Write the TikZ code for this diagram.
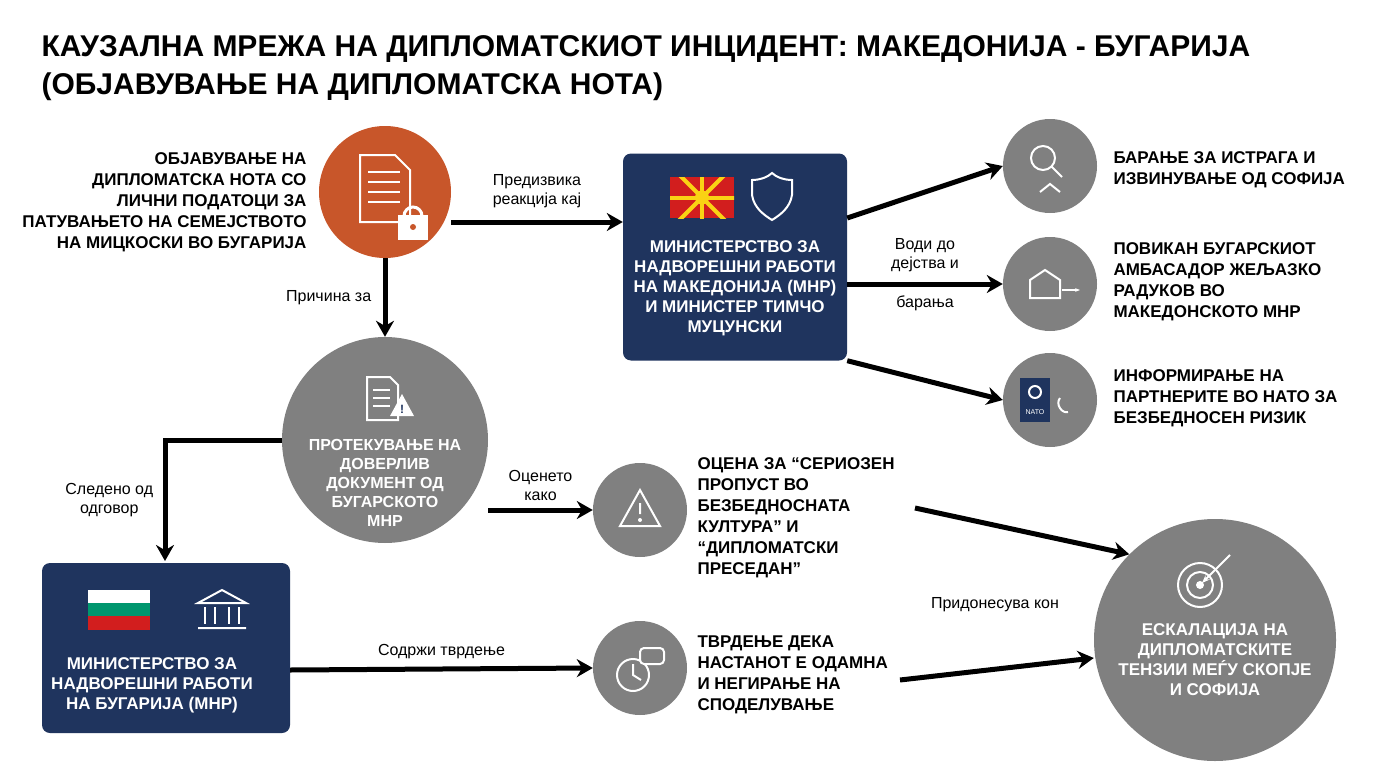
\documentclass[tikz,border=0pt]{standalone}
\usepackage{fontspec}
\setmainfont{Liberation Sans}
\usetikzlibrary{arrows.meta,positioning}
\definecolor{noteorange}{RGB}{200, 86, 42}
\definecolor{ministry}{RGB}{31, 52, 94}
\definecolor{effect}{RGB}{128, 128, 128}
\definecolor{mkred}{RGB}{210, 30, 30}
\definecolor{mkyellow}{RGB}{250, 210, 20}
\definecolor{bggreen}{RGB}{0, 150, 110}
\tikzset{
  flow/.style={line width=5pt, -{Stealth[length=16pt,width=18pt]}},
  lbl/.style={font=\fontsize{16}{19}\selectfont, align=center},
  bodytext/.style={font=\bfseries\fontsize{17}{21}\selectfont, align=left, anchor=west},
  ring/.style={circle, fill=effect, minimum size=94pt, inner sep=0pt},
  box/.style={rounded corners=8pt, fill=ministry, text=white, font=\bfseries\fontsize{17}{20}\selectfont, align=center},
  icon/.style={draw=white, line width=2pt}
}
\begin{document}
\begin{tikzpicture}[x=1pt, y=-1pt]
\useasboundingbox[fill=white] (0,0) rectangle (1376,768);
% title
\node[anchor=north west, align=left, font=\bfseries\fontsize{30}{38}\selectfont] (title) at (38,32)
  {КАУЗАЛНА МРЕЖА НА ДИПЛОМАТСКИОТ ИНЦИДЕНТ: МАКЕДОНИЈА - БУГАРИЈА\\(ОБЈАВУВАЊЕ НА ДИПЛОМАТСКА НОТА)};

% nodes
\node[circle, fill=noteorange, minimum size=132pt] (note) at (385,192) {};
\node[font=\bfseries\fontsize{17}{21}\selectfont, align=right, anchor=east] (notetxt) at (310,202)
  {ОБЈАВУВАЊЕ НА\\ДИПЛОМАТСКА НОТА СО\\ЛИЧНИ ПОДАТОЦИ ЗА\\ПАТУВАЊЕТО НА СЕМЕЈСТВОТО\\НА МИЦКОСКИ ВО БУГАРИЈА};
\node[box, minimum width=224pt, minimum height=207pt] (mnr) at (735,257) {};
\node[font=\bfseries\fontsize{17}{20}\selectfont, text=white, align=center] (mnrtxt) at (735,288)
  {МИНИСТЕРСТВО ЗА\\НАДВОРЕШНИ РАБОТИ\\НА МАКЕДОНИЈА (МНР)\\И МИНИСТЕР ТИМЧО\\МУЦУНСКИ};
\node[circle, fill=effect, minimum size=206pt, inner sep=0pt] (leak) at (385,440) {};
\node[font=\bfseries\fontsize{16}{19}\selectfont, text=white, align=center] (leaktxt) at (385,483)
  {ПРОТЕКУВАЊЕ НА\\ДОВЕРЛИВ\\ДОКУМЕНТ ОД\\БУГАРСКОТО\\МНР};
\node[box, minimum width=248pt, minimum height=170pt] (bgmnr) at (166,648) {};
\node[font=\bfseries\fontsize{17}{20}\selectfont, text=white, align=center] (bgtxt) at (152,685)
  {МИНИСТЕРСТВО ЗА\\НАДВОРЕШНИ РАБОТИ\\НА БУГАРИЈА (МНР)};

\node[ring] (probe) at (1050,166) {};
\node[bodytext] (probetxt) at (1110,170) {БАРАЊЕ ЗА ИСТРАГА И\\ИЗВИНУВАЊЕ ОД СОФИЈА};
\node[ring] (envoy) at (1050,284) {};
\node[bodytext] (envoytxt) at (1110,282) {ПОВИКАН БУГАРСКИОТ\\АМБАСАДОР ЖЕЉАЗКО\\РАДУКОВ ВО\\МАКЕДОНСКОТО МНР};
\node[ring] (nato) at (1050,400) {};
\node[bodytext] (natotxt) at (1110,398) {ИНФОРМИРАЊЕ НА\\ПАРТНЕРИТЕ ВО НАТО ЗА\\БЕЗБЕДНОСЕН РИЗИК};
\node[ring] (assess) at (640,510) {};
\node[bodytext] (assesstxt) at (694,518) {ОЦЕНА ЗА “СЕРИОЗЕН\\ПРОПУСТ ВО\\БЕЗБЕДНОСНАТА\\КУЛТУРА” И\\“ДИПЛОМАТСКИ\\ПРЕСЕДАН”};
\node[ring] (claim) at (640,668) {};
\node[bodytext] (claimtxt) at (694,675) {ТВРДЕЊЕ ДЕКА\\НАСТАНОТ Е ОДАМНА\\И НЕГИРАЊЕ НА\\СПОДЕЛУВАЊЕ};
\node[circle, fill=effect, minimum size=242pt, inner sep=0pt] (escal) at (1215,640) {};
\node[font=\bfseries\fontsize{17}{20}\selectfont, text=white, align=center] (escaltxt) at (1215,660)
  {ЕСКАЛАЦИЈА НА\\ДИПЛОМАТСКИТЕ\\ТЕНЗИИ МЕЃУ СКОПЈЕ\\И СОФИЈА};

% icons
\draw[icon, fill=noteorange] (360,155) -- (395,155) -- (410,170) -- (410,222) -- (360,222) -- cycle;
\foreach \yy in {172,182,192,202} \draw[white, line width=2pt] (368,\yy) -- (400,\yy);
\draw[white, line width=3pt] (404,216) arc (180:360:9);
\fill[white] (398,215) rectangle (428,240);
\fill[noteorange] (413,227) circle (3);
\begin{scope}
\clip (670,177) rectangle (734,218);
\fill[mkred] (670,177) rectangle (734,218);
\foreach \a in {0,45,...,315} \draw[mkyellow, line width=4pt] (702,197.5) -- ++(\a:40);
\fill[mkyellow] (702,197.5) circle (7);
\end{scope}
\draw[icon] (752,180) .. controls (760,180) and (768,177) .. (772,173) .. controls (776,177) and (784,180) .. (792,180) -- (792,195) .. controls (790,208) and (780,215) .. (772,220) .. controls (764,215) and (754,208) .. (752,195) -- cycle;
\draw[icon] (367,377) -- (390,377) -- (398,385) -- (398,420) -- (367,420) -- cycle;
\foreach \yy in {390,398,406} \draw[white, line width=1.5pt] (373,\yy) -- (390,\yy);
\fill[white] (402,394) -- (414,416) -- (390,416) -- cycle;
\node[text=ministry, font=\bfseries\fontsize{12}{12}\selectfont] (warnmark) at (402,409) {!};
\fill[white] (88,590) rectangle (150,603);
\fill[bggreen] (88,603) rectangle (150,616);
\fill[mkred] (88,616) rectangle (150,630);
\draw[icon] (198,603) -- (222,590) -- (246,603) -- cycle (198,628) -- (246,628);
\foreach \xx in {205,215,229,239} \draw[white, line width=2pt] (\xx,607) -- (\xx,624);
\draw[icon] (1043,158) circle (12) (1052,167) -- (1062,177);
\draw[icon] (1040,192) -- (1050,184) -- (1060,192);
\draw[icon] (1030,298) -- (1030,280) -- (1045,270) -- (1060,280) -- (1060,298) -- cycle;
\draw[white, line width=1.5pt, -{Stealth[length=5pt]}] (1062,290) -- (1080,290);
\fill[ministry] (1020,378) rectangle (1050,422);
\node[text=white, font=\fontsize{7}{7}\selectfont] (natomark) at (1035,412) {NATO};
\draw[icon] (1035,392) circle (6);
\draw[icon] (1060,398) .. controls (1055,404) and (1062,414) .. (1068,412);
\draw[icon] (640,490) -- (660,526) -- (620,526) -- cycle (640,503) -- (640,514);
\fill[white] (640,520) circle (2);
\draw[icon] (633,675) circle (16);
\draw[icon] (633,664) -- (633,675) -- (641,680);
\draw[icon, fill=effect, rounded corners=4pt] (640,648) rectangle (664,664);
\draw[icon] (1200,585) circle (22) (1200,585) circle (13);
\fill[white] (1200,585) circle (4);
\draw[white, line width=2pt, -{Stealth[length=8pt]}] (1230,555) -- (1202,583);

% arrows
\draw[flow] (note.east |- 0,222) -- (mnr.west |- 0,222) node[lbl, midway, above=8pt] (l1) {Предизвика\\реакција кај};
\draw[flow] (note.south) -- (leak.north) node[lbl, midway, left=8pt] (l2) {Причина за};
\draw[flow] (mnr.east |- 0,218) -- (probe.west);
\draw[flow] (mnr.east |- 0,284) -- (envoy.west) node[lbl, midway, above=6pt] (l3) {Води до\\дејства и}
  node[lbl, midway, below=6pt] (l3b) {барања};
\draw[flow] (mnr.south east) -- (nato.west);
\draw[flow] (leak.west |- 0,440) -| (165,561) node[lbl, pos=0.75, left=6pt] (l4) {Следено од\\одговор};
\draw[flow] (leak.east |- 0,510) -- (assess.west) node[lbl, midway, above=4pt] (l5) {Оценето\\како};
\draw[flow] (bgmnr.east |- 0,670) -- (claim.west) node[lbl, midway, above=4pt] (l6) {Содржи тврдење};
\draw[flow] (915,508) -- (escal.north west);
\draw[flow] (900,680) -- (escal.west |- 0,658);
\node[lbl] (l7) at (995,605) {Придонесува кон};
\end{tikzpicture}
\end{document}
